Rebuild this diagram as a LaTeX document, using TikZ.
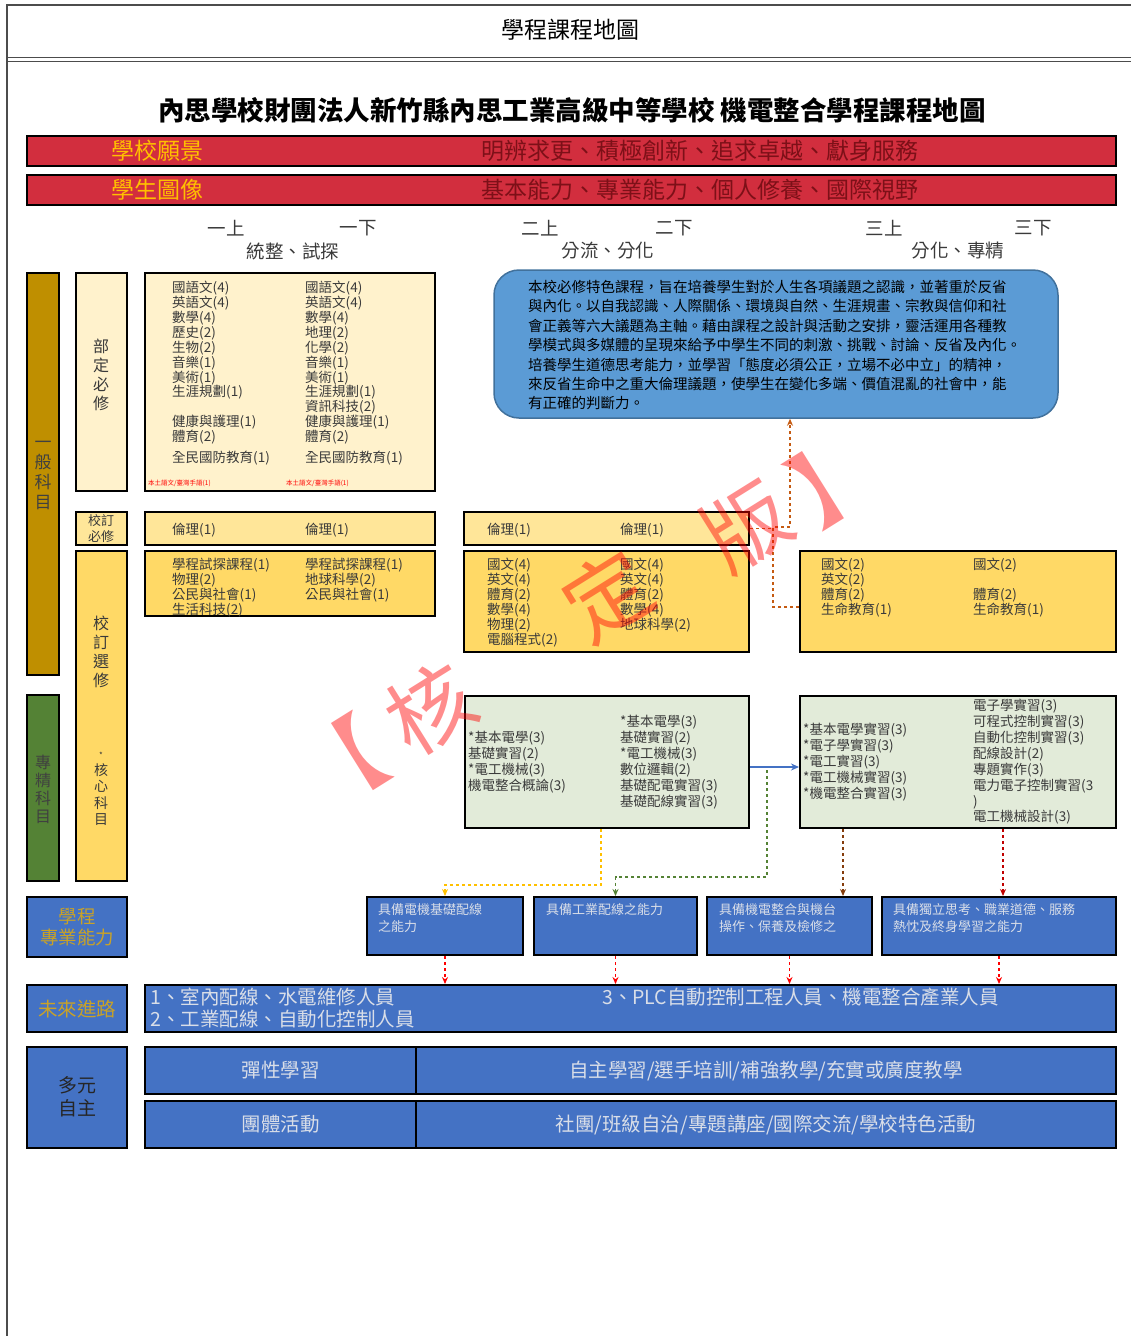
\documentclass[tikz,border=0pt]{standalone}
\usepackage{fontspec}
\setmainfont{Noto Sans CJK TC}
\usetikzlibrary{fit,positioning,arrows.meta}
\definecolor{barred}{RGB}{210,46,62}
\definecolor{bartext}{RGB}{125,16,24}
\definecolor{gold}{RGB}{255,192,0}
\definecolor{labgold}{RGB}{201,162,39}
\definecolor{genbar}{RGB}{191,143,0}
\definecolor{probar}{RGB}{84,130,53}
\definecolor{cream}{RGB}{255,242,204}
\definecolor{paleyel}{RGB}{255,230,153}
\definecolor{midyel}{RGB}{255,217,102}
\definecolor{skyblue}{RGB}{91,155,213}
\definecolor{skyedge}{RGB}{65,113,156}
\definecolor{palegrn}{RGB}{226,235,217}
\definecolor{boxblue}{RGB}{68,114,196}
\definecolor{listgray}{RGB}{58,58,58}
\definecolor{abtext}{RGB}{217,222,232}
\definecolor{dashorange}{RGB}{197,90,17}
\definecolor{dashbrown}{RGB}{132,60,12}
\definecolor{dashdkred}{RGB}{192,0,0}
\newcommand{\fs}[2]{\fontsize{#1}{#2}\selectfont}
\tikzset{
  bx/.style={draw=black, line width=2pt, inner sep=0pt},
  lst/.style={anchor=north west, align=left, inner sep=0pt, text=listgray, font=\fs{13.5}{14.9}},
  vtxt/.style={align=center, inner sep=0pt},
  grade/.style={inner sep=0pt, text=listgray, font=\fs{18.5}{20}},
  abil/.style={anchor=north west, align=left, inner sep=0pt, text=abtext, font=\fs{13}{17}},
  wide/.style={inner sep=0pt, text=abtext, font=\fs{19.5}{22}},
  link/.style={dashed, line width=1.4pt, -{Stealth[length=7pt,width=6pt]}},
  wmark/.style={text=red, text opacity=0.45, font=\fs{85}{85}, rotate=32, inner sep=0pt}
}

\begin{document}
\begin{tikzpicture}[x=1pt,y=-1pt]
  \useasboundingbox (0,0) rectangle (1131,1336);
  % page frame and header
  \draw[gray!60!black, line width=1.5pt] (1131,5) -- (7,5) -- (7,1336);
  \draw[gray!60!black, line width=1pt] (7,57) -- (1131,57);
  \draw[gray!60!black, line width=1pt] (7,61) -- (1131,61);
  \node[font=\fs{23}{26}] (head) at (570,30) {學程課程地圖};
  \node[font=\bfseries\fs{26.5}{29}] (title) at (572,110) {內思學校財團法人新竹縣內思工業高級中等學校 機電整合學程課程地圖};

  % vision bars
  \node[bx, fill=barred, fit={(27,136) (1116,166)}] (vision) {};
  \node[text=gold, font=\fs{23}{26}, inner sep=0pt] (visionlab) at (157,151) {學校願景};
  \node[text=bartext, font=\fs{23}{26}, inner sep=0pt] (visiontxt) at (700,151) {明辨求更、積極創新、追求卓越、獻身服務};
  \node[bx, fill=barred, fit={(27,175) (1116,205)}] (portrait) {};
  \node[text=gold, font=\fs{23}{26}, inner sep=0pt] (portraitlab) at (157,190) {學生圖像};
  \node[text=bartext, font=\fs{23}{26}, inner sep=0pt] (portraittxt) at (700,190) {基本能力、專業能力、個人修養、國際視野};

  % grades
  \node[grade] (g11) at (226,228) {一上};
  \node[grade] (g12) at (358,228) {一下};
  \node[grade] (g21) at (540,228) {二上};
  \node[grade] (g22) at (674,228) {二下};
  \node[grade] (g31) at (884,228) {三上};
  \node[grade] (g32) at (1033,228) {三下};
  \node[grade] (s1) at (293,251) {統整、試探};
  \node[grade] (s2) at (608,251) {分流、分化};
  \node[grade] (s3) at (958,251) {分化、專精};

  % left columns
  \node[bx, fill=genbar, fit={(27,273) (59,675)}] (gen) {};
  \node[vtxt, text=black!75, font=\fs{17}{20}] (genlab) at (43,475) {一\\般\\科\\目};
  \node[bx, fill=probar, fit={(27,695) (59,881)}] (pro) {};
  \node[vtxt, text=black!75, font=\fs{16}{18}] (prolab) at (43,789) {專\\精\\科\\目};
  \node[bx, fill=cream, fit={(76,273) (127,491)}] (req) {};
  \node[vtxt, text=listgray, font=\fs{16}{19}] (reqlab) at (101,375) {部\\定\\必\\修};
  \node[bx, fill=paleyel, fit={(76,512) (127,545)}] (sreq) {};
  \node[vtxt, text=listgray, font=\fs{13}{16}] (sreqlab) at (101,529) {校訂\\必修};
  \node[bx, fill=midyel, fit={(76,551) (127,881)}] (sel) {};
  \node[vtxt, text=listgray, font=\fs{16}{19}] (sellab) at (101,652) {校\\訂\\選\\修};
  \node[vtxt, text=listgray, font=\fs{14}{16.5}] (corelab) at (101,789) {{\fs{8}{8}*}\\核\\心\\科\\目};

  % grade 1 boxes
  \node[bx, fill=cream, fit={(145,273) (435,491)}] (req1) {};
  \node[lst] (req1a) at (172,281) {國語文(4)\\英語文(4)\\數學(4)\\歷史(2)\\生物(2)\\音樂(1)\\美術(1)\\生涯規劃(1)\\\mbox{}\\健康與護理(1)\\體育(2)\\[6pt]全民國防教育(1)};
  \node[lst] (req1b) at (305,281) {國語文(4)\\英語文(4)\\數學(4)\\地理(2)\\化學(2)\\音樂(1)\\美術(1)\\生涯規劃(1)\\資訊科技(2)\\健康與護理(1)\\體育(2)\\[6pt]全民國防教育(1)};
  \node[anchor=west, inner sep=0pt, text=red, font=\fs{6.5}{7}] (lang1) at (148,483) {本土語文/臺灣手語(1)};
  \node[anchor=west, inner sep=0pt, text=red, font=\fs{6.5}{7}] (lang2) at (286,483) {本土語文/臺灣手語(1)};
  \node[bx, fill=paleyel, fit={(145,512) (435,545)}] (eth1) {};
  \node[lst, anchor=west] (eth1a) at (172,530) {倫理(1)};
  \node[lst, anchor=west] (eth1b) at (305,530) {倫理(1)};
  \node[bx, fill=midyel, fit={(145,551) (435,616)}] (sel1) {};
  \node[lst] (sel1a) at (172,558) {學程試探課程(1)\\物理(2)\\公民與社會(1)\\生活科技(2)};
  \node[lst] (sel1b) at (305,558) {學程試探課程(1)\\地球科學(2)\\公民與社會(1)};

  % grade 2 boxes
  \node[bx, fill=paleyel, fit={(464,512) (749,545)}] (eth2) {};
  \node[lst, anchor=west] (eth2a) at (487,530) {倫理(1)};
  \node[lst, anchor=west] (eth2b) at (620,530) {倫理(1)};
  \node[bx, fill=midyel, fit={(464,551) (749,652)}] (sel2) {};
  \node[lst] (sel2a) at (487,558) {國文(4)\\英文(4)\\體育(2)\\數學(4)\\物理(2)\\電腦程式(2)};
  \node[lst] (sel2b) at (620,558) {國文(4)\\英文(4)\\體育(2)\\數學(4)\\地球科學(2)};

  % grade 3 box
  \node[bx, fill=midyel, fit={(800,551) (1116,652)}] (sel3) {};
  \node[lst] (sel3a) at (821,558) {國文(2)\\英文(2)\\體育(2)\\生命教育(1)};
  \node[lst] (sel3b) at (973,558) {國文(2)\\\mbox{}\\體育(2)\\生命教育(1)};

  % ethics course note
  \node[draw=skyedge, line width=1.5pt, fill=skyblue, rounded corners=25pt, inner sep=0pt,
        fit={(494,270) (1058,418)}] (note) {};
  \node[anchor=north west, align=left, inner sep=0pt, font=\fs{14.5}{19.4}] (notetxt) at (528,280) {本校必修特色課程，旨在培養學生對於人生各項議題之認識，並著重於反省\\與內化。以自我認識、人際關係、環境與自然、生涯規畫、宗教與信仰和社\\會正義等六大議題為主軸。藉由課程之設計與活動之安排，靈活運用各種教\\學模式與多媒體的呈現來給予中學生不同的刺激、挑戰、討論、反省及內化。\\培養學生道德思考能力，並學習「態度必須公正，立場不必中立」的精神，\\來反省生命中之重大倫理議題，使學生在變化多端、價值混亂的社會中，能\\有正確的判斷力。};

  % core courses
  \node[bx, fill=palegrn, fit={(465,696) (749,828)}] (core2) {};
  \node[lst, font=\fs{13.5}{16}] (core2a) at (468,731) {*基本電學(3)\\基礎實習(2)\\*電工機械(3)\\機電整合概論(3)};
  \node[lst, font=\fs{13.5}{16}] (core2b) at (620,715) {*基本電學(3)\\基礎實習(2)\\*電工機械(3)\\數位邏輯(2)\\基礎配電實習(3)\\基礎配線實習(3)};
  \node[bx, fill=palegrn, fit={(800,696) (1116,828)}] (core3) {};
  \node[lst, font=\fs{13.5}{16}] (core3a) at (803,723) {*基本電學實習(3)\\*電子學實習(3)\\*電工實習(3)\\*電工機械實習(3)\\*機電整合實習(3)};
  \node[lst, font=\fs{13.5}{15.9}] (core3b) at (973,699) {電子學實習(3)\\可程式控制實習(3)\\自動化控制實習(3)\\配線設計(2)\\專題實作(3)\\電力電子控制實習(3\\)\\電工機械設計(3)};

  % abilities
  \node[bx, fill=boxblue, fit={(27,897) (127,957)}] (ablab) {};
  \node[vtxt, text=labgold, font=\fs{18.5}{21}] (ablabtxt) at (77,927) {學程\\專業能力};
  \node[bx, fill=boxblue, fit={(367,897) (523,955)}] (ab1) {};
  \node[abil] (ab1t) at (378,903) {具備電機基礎配線\\之能力};
  \node[bx, fill=boxblue, fit={(534,897) (697,955)}] (ab2) {};
  \node[abil] (ab2t) at (546,903) {具備工業配線之能力};
  \node[bx, fill=boxblue, fit={(707,897) (872,955)}] (ab3) {};
  \node[abil] (ab3t) at (719,903) {具備機電整合與機台\\操作、保養及檢修之};
  \node[bx, fill=boxblue, fit={(882,897) (1116,955)}] (ab4) {};
  \node[abil] (ab4t) at (893,903) {具備獨立思考、職業道德、服務\\熱忱及終身學習之能力};

  % future paths
  \node[bx, fill=boxblue, fit={(27,985) (127,1032)}] (futlab) {};
  \node[text=labgold, font=\fs{19.5}{22}, inner sep=0pt] (futlabtxt) at (77,1009) {未來進路};
  \node[bx, fill=boxblue, fit={(145,985) (1116,1032)}] (fut) {};
  \node[wide, anchor=west] (fut1) at (150,997) {1、室內配線、水電維修人員};
  \node[wide, anchor=west] (fut2) at (150,1019) {2、工業配線、自動化控制人員};
  \node[wide, anchor=west] (fut3) at (602,997) {3、PLC自動控制工程人員、機電整合產業人員};

  % multiple autonomy
  \node[bx, fill=boxblue, fit={(27,1047) (127,1148)}] (auto) {};
  \node[vtxt, text=black!85, font=\fs{19}{23}] (autotxt) at (77,1097) {多元\\自主};
  \node[bx, fill=boxblue, fit={(145,1047) (416,1094)}] (flex) {};
  \node[wide] (flext) at (flex) {彈性學習};
  \node[bx, fill=boxblue, fit={(416,1047) (1116,1094)}] (flexr) {};
  \node[wide] (flexrt) at (flexr) {自主學習/選手培訓/補強教學/充實或廣度教學};
  \node[bx, fill=boxblue, fit={(145,1101) (416,1148)}] (group) {};
  \node[wide] (groupt) at (group) {團體活動};
  \node[bx, fill=boxblue, fit={(416,1101) (1116,1148)}] (groupr) {};
  \node[wide] (grouprt) at (groupr) {社團/班級自治/專題講座/國際交流/學校特色活動};

  % connectors
  \coordinate (o1) at (773,607);
  \coordinate (o2) at (773,527);
  \coordinate (o3) at (790,527);
  \draw[dashed, line width=1.4pt, dashorange] (eth2.east) -- (eth2.east -| o2);
  \draw[link, dashorange] (o1 -| sel3.west) -- (o1) -- (o2) -- (o3) -- (o3 |- note.south);
  \draw[line width=1.4pt, boxblue, -{Stealth[length=8pt,width=7pt]}] ([yshift=-5pt]core2.east) -- ([yshift=-5pt]core3.west);
  \coordinate (y1) at (601,885);
  \draw[link, gold] (y1 |- core2.south) -- (y1) -| (ab1.north);
  \coordinate (y2) at (767,877);
  \draw[link, probar] (767,770) -- (y2) -| (ab2.north);
  \coordinate (y3) at (843,0);
  \draw[link, dashbrown] (y3 |- core3.south) -- (y3 |- ab3.north);
  \coordinate (y4) at (1003,0);
  \draw[link, dashdkred] (y4 |- core3.south) -- (y4 |- ab4.north);
  \foreach \a in {ab1,ab2,ab3,ab4}
    \draw[link, red] (\a.south) -- (\a.south |- fut.north);

  % watermark
  \node[wmark] (wm1) at (340,765) {【};
  \node[wmark] (wm2) at (430,708) {核};
  \node[wmark] (wm3) at (607,595) {定};
  \node[wmark] (wm4) at (747,526) {版};
  \node[wmark] (wm5) at (835,478) {】};
\end{tikzpicture}
\end{document}
